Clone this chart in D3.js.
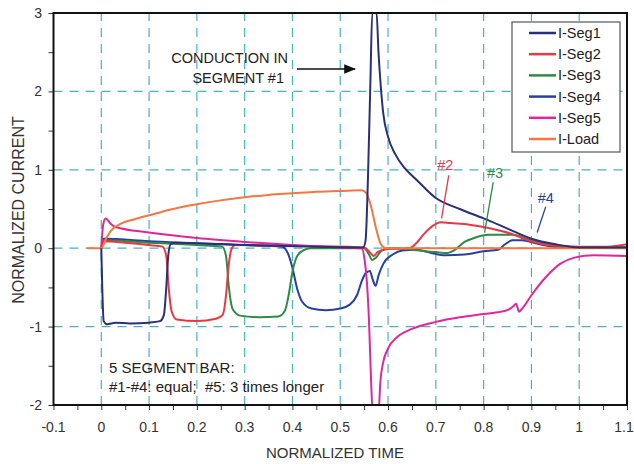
<!DOCTYPE html>
<html>
<head>
<meta charset="utf-8">
<script src="https://cdn.jsdelivr.net/npm/d3@7"></script>
<style>
  body { margin: 0; background: #fff; }
  text { font-family: "Liberation Sans", Arial, sans-serif; }
</style>
</head>
<body>
<div id="chart"></div>
<script>
// [normalized time, normalized current]
var iSeg1 = [[0,0],[0.002,-0.5],[0.005,-0.93],[0.012,-0.97],[0.03,-0.95],[0.06,-0.96],[0.1,-0.95],[0.123,-0.93],[0.131,-0.85],[0.136,-0.5],[0.14,-0.1],[0.145,0.05],[0.155,0.07],[0.3,0.04],[0.45,0.02],[0.548,0.01],[0.553,0.1],[0.558,0.9],[0.563,2.1],[0.567,3.0],[0.576,3.0],[0.58,2.5],[0.585,2.05],[0.59,1.72],[0.6,1.42],[0.615,1.2],[0.635,1.02],[0.66,0.87],[0.7,0.64],[0.75,0.5],[0.8,0.38],[0.85,0.25],[0.9,0.12],[0.95,0.05],[1.0,0.01],[1.1,0.01]];
var iSeg2 = [[0,0],[0.005,0.09],[0.05,0.07],[0.1,0.04],[0.128,0.02],[0.136,-0.1],[0.141,-0.5],[0.147,-0.8],[0.158,-0.91],[0.2,-0.93],[0.24,-0.9],[0.254,-0.85],[0.261,-0.6],[0.266,-0.25],[0.272,-0.02],[0.28,0.04],[0.4,0.03],[0.55,0.01],[0.563,-0.06],[0.57,-0.1],[0.578,-0.05],[0.6,-0.01],[0.645,0],[0.66,0.07],[0.675,0.18],[0.695,0.29],[0.71,0.33],[0.73,0.32],[0.77,0.3],[0.8,0.27],[0.83,0.23],[0.86,0.18],[0.88,0.13],[0.91,0.07],[0.95,0.03],[1.0,0.02],[1.06,0.02],[1.1,0.05]];
var iSeg3 = [[0,0],[0.005,0.1],[0.1,0.07],[0.2,0.04],[0.253,0.02],[0.261,-0.1],[0.267,-0.5],[0.275,-0.78],[0.29,-0.86],[0.33,-0.88],[0.37,-0.87],[0.384,-0.8],[0.392,-0.6],[0.4,-0.3],[0.41,-0.1],[0.425,-0.02],[0.44,0],[0.55,0],[0.56,-0.08],[0.567,-0.15],[0.575,-0.12],[0.585,-0.04],[0.6,0],[0.65,-0.02],[0.7,-0.05],[0.725,-0.06],[0.74,-0.02],[0.76,0.08],[0.78,0.13],[0.81,0.17],[0.86,0.17],[0.9,0.1],[0.95,0.04],[1.0,0.01],[1.1,0.01]];
var iSeg4 = [[0,0],[0.005,0.12],[0.1,0.09],[0.2,0.06],[0.3,0.04],[0.378,0.02],[0.39,-0.06],[0.4,-0.25],[0.41,-0.52],[0.42,-0.68],[0.44,-0.77],[0.47,-0.79],[0.5,-0.77],[0.52,-0.72],[0.535,-0.6],[0.545,-0.42],[0.553,-0.32],[0.562,-0.29],[0.568,-0.4],[0.574,-0.48],[0.58,-0.35],[0.59,-0.2],[0.61,-0.08],[0.63,-0.03],[0.66,-0.02],[0.69,-0.06],[0.72,-0.09],[0.76,-0.08],[0.8,-0.04],[0.83,-0.02],[0.845,0.05],[0.86,0.1],[0.88,0.1],[0.91,0.06],[0.95,0.02],[1.0,0.01],[1.1,0.01]];
var iSeg5 = [[0,0],[0.004,0.3],[0.009,0.38],[0.02,0.31],[0.03,0.27],[0.1,0.2],[0.2,0.13],[0.3,0.08],[0.4,0.04],[0.5,0.01],[0.545,0],[0.551,-0.15],[0.556,-0.45],[0.56,-0.9],[0.564,-1.6],[0.568,-2.1],[0.58,-2.1],[0.584,-1.7],[0.59,-1.45],[0.6,-1.28],[0.62,-1.13],[0.65,-1.03],[0.7,-0.94],[0.75,-0.88],[0.8,-0.84],[0.85,-0.79],[0.862,-0.74],[0.868,-0.71],[0.874,-0.81],[0.882,-0.76],[0.9,-0.6],[0.93,-0.37],[0.96,-0.2],[0.99,-0.12],[1.03,-0.09],[1.1,-0.1]];
var iLoad = [[-0.03,0],[0,0],[0.01,0.12],[0.02,0.22],[0.04,0.31],[0.07,0.37],[0.1,0.42],[0.15,0.5],[0.2,0.56],[0.25,0.61],[0.3,0.65],[0.35,0.68],[0.4,0.7],[0.45,0.72],[0.5,0.73],[0.545,0.74],[0.555,0.7],[0.565,0.52],[0.575,0.25],[0.585,0.05],[0.595,0],[1.1,0]];

var seriesNames = ["I-Seg1", "I-Seg2", "I-Seg3", "I-Seg4", "I-Seg5", "I-Load"];
var seriesColors = ["#28307a", "#ec3641", "#2e8a44", "#2540a2", "#e0269c", "#f3773f"];
var xTicks = [-0.1, 0, 0.1, 0.2, 0.3, 0.4, 0.5, 0.6, 0.7, 0.8, 0.9, 1, 1.1];
var yTicks = [-2, -1, 0, 1, 2, 3];

var width = 634, height = 464;
var svg = d3.select("#chart").append("svg")
    .attr("width", width)
    .attr("height", height);

var x = d3.scaleLinear().domain([-0.1, 1.1]).range([53.5, 627]);
var y = d3.scaleLinear().domain([-2, 3]).range([405, 13]);

// grid
var grid = svg.append("g")
    .attr("stroke", "#45b2c8")
    .attr("stroke-width", 1.2)
    .attr("stroke-dasharray", "9,7");
grid.selectAll(".vg").data(d3.range(0, 1.01, 0.1)).enter().append("line")
    .attr("x1", function(d) { return x(d); })
    .attr("x2", function(d) { return x(d); })
    .attr("y1", y(-2)).attr("y2", y(3));
grid.selectAll(".hg").data([-1, 0, 1, 2]).enter().append("line")
    .attr("y1", function(d) { return y(d); })
    .attr("y2", function(d) { return y(d); })
    .attr("x1", x(-0.1)).attr("x2", x(1.1));

// axes
var xAxis = svg.append("g").attr("transform", "translate(0," + y(-2) + ")")
    .call(d3.axisBottom(x).tickValues(d3.range(-0.1, 1.101, 0.05)).tickSize(5).tickFormat(""));
var yAxis = svg.append("g").attr("transform", "translate(" + x(-0.1) + ",0)")
    .call(d3.axisLeft(y).tickValues(d3.range(-2, 3.01, 0.5)).tickSize(5).tickFormat(""));
svg.selectAll(".domain").remove();
svg.selectAll(".tick line").attr("stroke", "#333").attr("stroke-width", 1);

svg.append("g").selectAll("text").data(xTicks).enter().append("text")
    .attr("x", function(d) { return Math.min(x(d), 624); })
    .attr("y", 432)
    .attr("text-anchor", "middle")
    .attr("fill", "#333")
    .style("font-size", "14px")
    .text(function(d) { return d; });

svg.append("g").selectAll("text").data(yTicks).enter().append("text")
    .attr("x", 42)
    .attr("y", function(d) { return y(d) + 5; })
    .attr("text-anchor", "end")
    .attr("fill", "#333")
    .style("font-size", "14px")
    .text(function(d) { return d; });

svg.append("text")
    .attr("x", 335).attr("y", 458)
    .attr("text-anchor", "middle")
    .attr("fill", "#333")
    .style("font-size", "15px")
    .text("NORMALIZED TIME");

svg.append("text")
    .attr("transform", "translate(24,210) rotate(-90)")
    .attr("text-anchor", "middle")
    .attr("fill", "#333")
    .style("font-size", "16px")
    .text("NORMALIZED CURRENT");

// curves
svg.append("clipPath").attr("id", "plotClip").append("rect")
    .attr("x", x(-0.1)).attr("y", y(3))
    .attr("width", x(1.1) - x(-0.1)).attr("height", y(-2) - y(3));

var line = d3.line()
    .x(function(d) { return x(d[0]); })
    .y(function(d) { return y(d[1]); })
    .curve(d3.curveMonotoneX);

var allSeries = [iSeg1, iSeg2, iSeg3, iSeg4, iSeg5, iLoad];
var drawOrder = [3, 2, 1, 4, 5, 0];
var curves = svg.append("g").attr("clip-path", "url(#plotClip)");
drawOrder.forEach(function(i) {
    curves.append("path")
        .attr("d", line(allSeries[i]))
        .attr("fill", "none")
        .attr("stroke", seriesColors[i])
        .attr("stroke-width", 2)
        .attr("stroke-linejoin", "round");
});

// frame
svg.append("rect")
    .attr("x", x(-0.1)).attr("y", y(3))
    .attr("width", x(1.1) - x(-0.1)).attr("height", y(-2) - y(3))
    .attr("fill", "none")
    .attr("stroke", "#111")
    .attr("stroke-width", 2);

// annotations
svg.append("defs").append("marker")
    .attr("id", "arrow").attr("viewBox", "0 0 10 10")
    .attr("refX", 9).attr("refY", 5)
    .attr("markerWidth", 8).attr("markerHeight", 8)
    .attr("orient", "auto")
    .append("path").attr("d", "M0,1 L10,5 L0,9 z").attr("fill", "#111");

svg.append("text").attr("x", 288).attr("y", 63).attr("text-anchor", "end")
    .attr("fill", "#222").style("font-size", "14.5px").text("CONDUCTION IN");
svg.append("text").attr("x", 284).attr("y", 83).attr("text-anchor", "end")
    .attr("fill", "#222").style("font-size", "14.5px").text("SEGMENT #1");
svg.append("line")
    .attr("x1", 297).attr("y1", 69).attr("x2", 355).attr("y2", 69)
    .attr("stroke", "#111").attr("stroke-width", 1.5)
    .attr("marker-end", "url(#arrow)");

var labels = [
    {t: "#2", c: seriesColors[1], x: 0.703, y: 1.0, x1: 0.727, y1: 0.93, x2: 0.712, y2: 0.38},
    {t: "#3", c: seriesColors[2], x: 0.807, y: 0.895, x1: 0.82, y1: 0.84, x2: 0.802, y2: 0.2},
    {t: "#4", c: seriesColors[3], x: 0.913, y: 0.58, x1: 0.93, y1: 0.53, x2: 0.912, y2: 0.2}
];
labels.forEach(function(l) {
    svg.append("text").attr("x", x(l.x)).attr("y", y(l.y))
        .attr("fill", l.c).style("font-size", "14.5px").text(l.t);
    svg.append("line")
        .attr("x1", x(l.x1)).attr("y1", y(l.y1))
        .attr("x2", x(l.x2)).attr("y2", y(l.y2))
        .attr("stroke", l.c).attr("stroke-width", 1.3);
});

svg.append("text").attr("x", 109).attr("y", 373)
    .attr("fill", "#222").style("font-size", "15px").text("5 SEGMENT BAR:");
svg.append("text").attr("x", 109).attr("y", 392)
    .attr("fill", "#222").style("font-size", "15px")
    .style("white-space", "pre")
    .text("#1-#4: equal;  #5: 3 times longer");

// legend
var legend = svg.append("g");
legend.append("rect")
    .attr("x", 512).attr("y", 22).attr("width", 108).attr("height", 130)
    .attr("fill", "#fff").attr("stroke", "#555").attr("stroke-width", 1.2);
var rows = legend.selectAll(".ledgends").data(seriesNames).enter().append("g")
    .attr("transform", function(d, i) { return "translate(0," + (33 + i * 21.2) + ")"; });
rows.append("line")
    .attr("x1", 529).attr("x2", 556)
    .attr("stroke", function(d, i) { return seriesColors[i]; })
    .attr("stroke-width", 2.5);
rows.append("text")
    .attr("x", 558).attr("y", 5)
    .attr("fill", "#222")
    .style("font-size", "14.5px")
    .text(function(d) { return d; });
</script>
</body>
</html>
